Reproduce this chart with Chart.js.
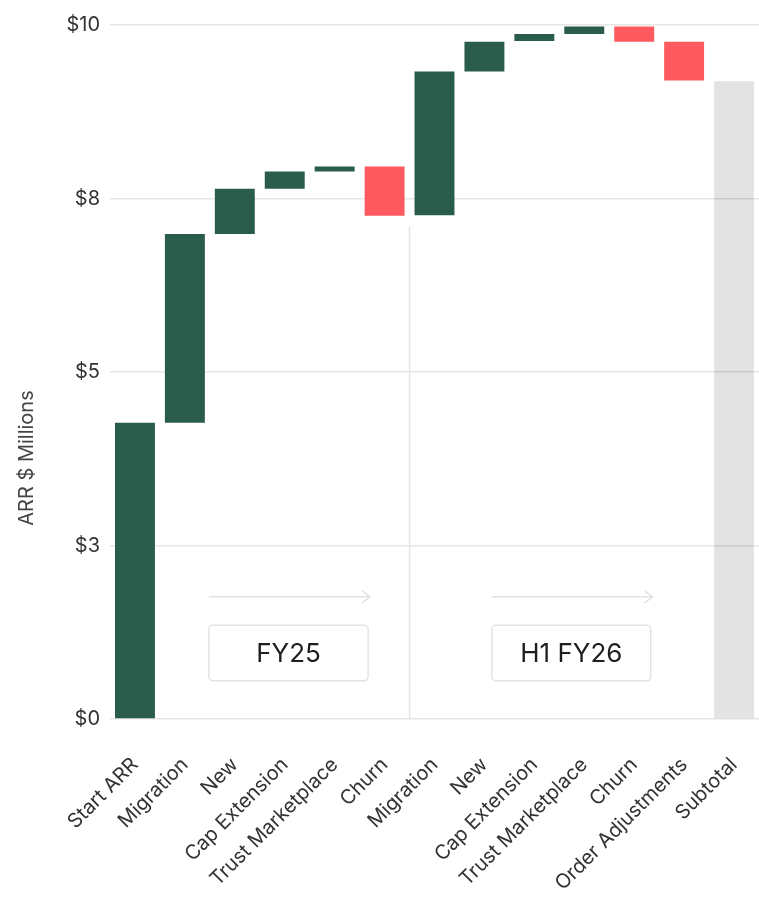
<!DOCTYPE html>
<html lang="en">
<head>
    <meta charset="UTF-8">
    <title>ARR Waterfall</title>
    <script src="https://cdn.jsdelivr.net/npm/chart.js"></script>
    <style>
        body { margin: 0; background: #fff; }
        #wrap { width: 759px; height: 900px; }
    </style>
</head>
<body>
    <div id="wrap"><canvas id="myChart"></canvas></div>

    <script>
        // categories along the x axis
        const labels = ['Start ARR', 'Migration', 'New', 'Cap Extension', 'Trust Marketplace', 'Churn',
                        'Migration', 'New', 'Cap Extension', 'Trust Marketplace', 'Churn', 'Order Adjustments', 'Subtotal'];
        // floating bar bottoms and tops ($ millions)
        const barLow  = [0,    4.27, 6.99, 7.64, 7.89, 7.25, 7.26, 9.33, 9.77, 9.87, 9.76, 9.20, 0];
        const barHigh = [4.27, 6.99, 7.64, 7.89, 7.96, 7.96, 9.33, 9.76, 9.87, 9.98, 9.98, 9.76, 9.19];
        // bar kind: up, down or total
        const barKind = ['up', 'up', 'up', 'up', 'up', 'down', 'up', 'up', 'up', 'up', 'down', 'down', 'total'];
        // y ticks
        const yTicks = [0, 2.5, 5, 7.5, 10];
        // period annotations
        const periodNames = ['FY25', 'H1 FY26'];
        const periodFrom = [1.48, 7.15];   // category index units
        const periodTo = [4.67, 10.33];
        const dividerAt = 5.5;             // between the two Churn / Migration bars
        const dividerTop = 7.09;

        const kindColors = { up: '#2a5c4b', down: '#fe5a60', total: 'rgba(0,0,0,0.11)' };

        // draws the FY dividers, arrows and boxed labels
        const periodPlugin = {
            id: 'periods',
            beforeDatasetsDraw(chart) {
                const { ctx, scales: { x, y } } = chart;
                ctx.save();
                ctx.strokeStyle = '#e4e4e4';
                ctx.lineWidth = 1.5;
                const dx = x.getPixelForValue(dividerAt);
                ctx.beginPath();
                ctx.moveTo(dx, y.getPixelForValue(dividerTop));
                ctx.lineTo(dx, y.getPixelForValue(0));
                ctx.stroke();
                ctx.restore();
            },
            afterDatasetsDraw(chart) {
                const { ctx, scales: { x, y } } = chart;
                ctx.save();
                periodNames.forEach((name, i) => {
                    const x0 = x.getPixelForValue(periodFrom[i]);
                    const x1 = x.getPixelForValue(periodTo[i]);
                    // arrow
                    const ay = y.getPixelForValue(1.76);
                    ctx.strokeStyle = '#e2e2e2';
                    ctx.lineWidth = 1.5;
                    ctx.beginPath();
                    ctx.moveTo(x0, ay);
                    ctx.lineTo(x1 + 2, ay);
                    ctx.moveTo(x1 - 6, ay - 6);
                    ctx.lineTo(x1 + 2, ay);
                    ctx.lineTo(x1 - 6, ay + 6);
                    ctx.stroke();
                    // box
                    const by0 = y.getPixelForValue(1.35);
                    const by1 = y.getPixelForValue(0.55);
                    ctx.strokeStyle = '#e3e3e3';
                    ctx.fillStyle = '#fff';
                    ctx.beginPath();
                    ctx.roundRect(x0, by0, x1 - x0, by1 - by0, 4);
                    ctx.fill();
                    ctx.stroke();
                    ctx.fillStyle = '#1e1e1e';
                    ctx.font = '26px Inter';
                    ctx.textAlign = 'center';
                    ctx.textBaseline = 'middle';
                    ctx.fillText(name, (x0 + x1) / 2, (by0 + by1) / 2 + 1);
                });
                // y axis title
                ctx.translate(27, chart.height / 2 + 8);
                ctx.rotate(-Math.PI / 2);
                ctx.fillStyle = '#444';
                ctx.font = '20px Inter';
                ctx.textAlign = 'center';
                ctx.textBaseline = 'middle';
                ctx.fillText('ARR $ Millions', 0, 0);
                ctx.restore();
            }
        };

        const ctx = document.getElementById('myChart').getContext('2d');
        const myChart = new Chart(ctx, {
            type: 'bar',
            data: {
                labels: labels,
                datasets: [{
                    data: labels.map((_, i) => [barLow[i], barHigh[i]]),
                    backgroundColor: barKind.map(k => kindColors[k]),
                    borderWidth: 0,
                    borderSkipped: false,
                    barPercentage: 1,
                    categoryPercentage: 0.8
                }]
            },
            options: {
                responsive: true,
                maintainAspectRatio: false,
                animation: false,
                layout: { padding: { top: 25, right: 0, left: 0, bottom: 0 } },
                scales: {
                    x: {
                        afterFit(scale) {
                            scale.height = 181;
                            scale.paddingLeft = 0;
                            scale.paddingRight = 0;
                        },
                        grid: { display: false },
                        border: { display: false },
                        ticks: {
                            color: '#333',
                            font: { family: 'Inter', size: 20 },
                            minRotation: 45,
                            maxRotation: 45,
                            autoSkip: false,
                            padding: 26
                        }
                    },
                    y: {
                        min: 0,
                        max: 10,
                        afterFit(scale) {
                            scale.width = 110;
                            scale.paddingTop = 0;
                        },
                        afterBuildTicks(scale) { scale.ticks = yTicks.map(v => ({ value: v })); },
                        grid: { color: '#e6e6e6', lineWidth: 1.5, drawTicks: false },
                        border: { display: false },
                        ticks: {
                            color: '#333',
                            font: { family: 'Inter', size: 20 },
                            padding: 10,
                            callback: v => '$' + Math.round(v)
                        }
                    }
                },
                plugins: {
                    legend: { display: false },
                    tooltip: { enabled: false }
                }
            },
            plugins: [periodPlugin]
        });
    </script>
</body>
</html>
